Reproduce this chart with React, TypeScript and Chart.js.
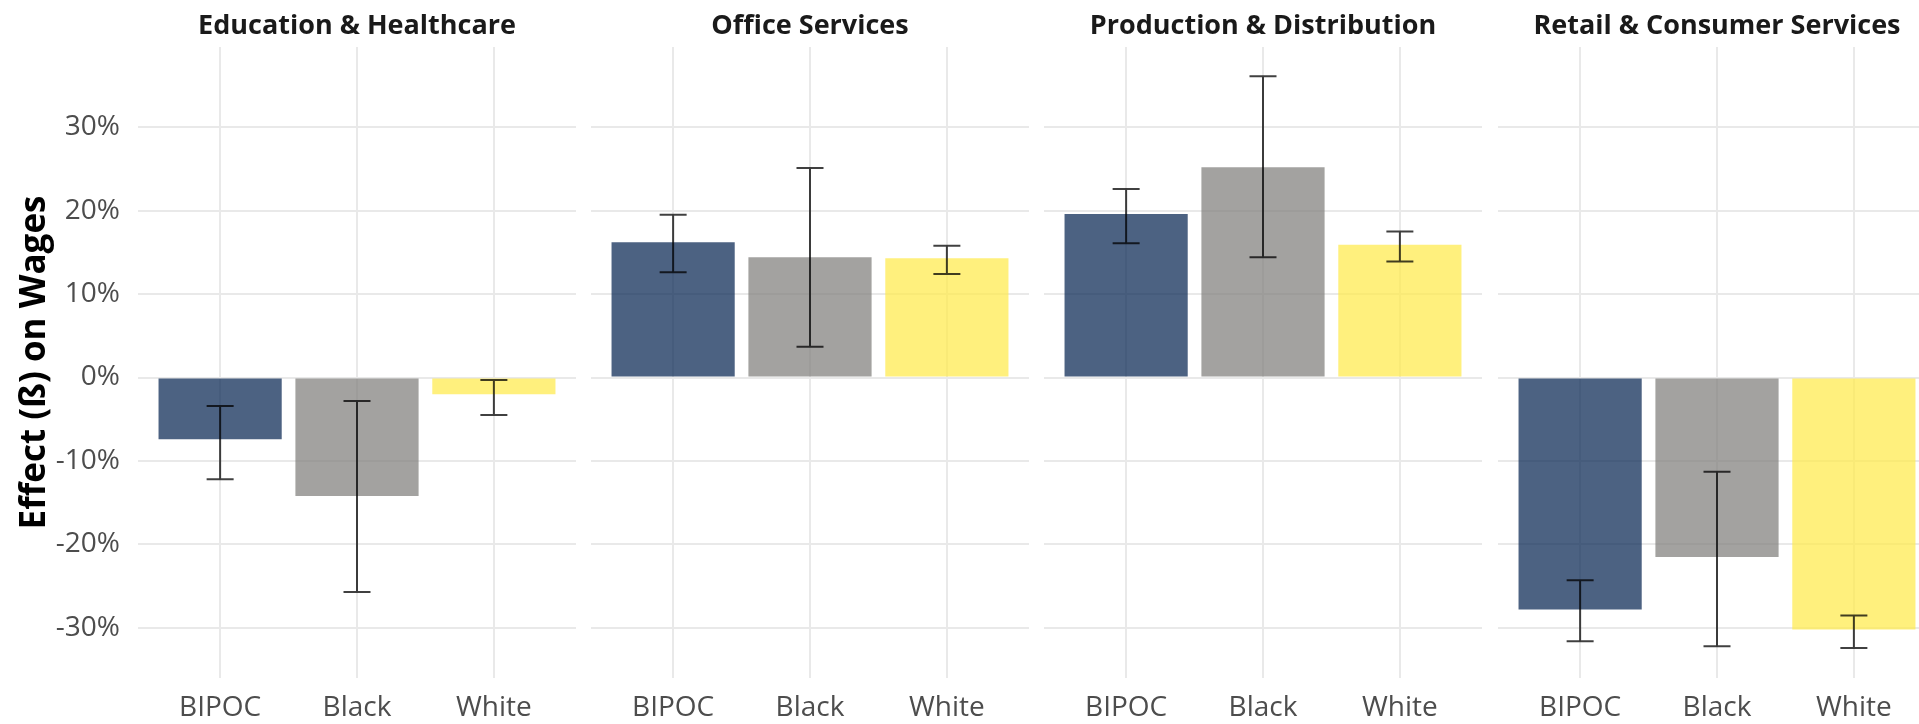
import React, { useEffect, useRef } from "react";
import { Chart, registerables } from "chart.js";

Chart.register(...registerables);

// ---------- data ----------
const categories = ["BIPOC", "Black", "White"];
const panelTitles = [
  "Education & Healthcare",
  "Office Services",
  "Production & Distribution",
  "Retail & Consumer Services",
];

const eduEffect = [-7.4, -14.2, -2.0];
const eduLow = [-12.2, -25.7, -4.5];
const eduHigh = [-3.4, -2.8, -0.3];

const officeEffect = [16.2, 14.4, 14.3];
const officeLow = [12.6, 3.7, 12.4];
const officeHigh = [19.5, 25.1, 15.8];

const prodEffect = [19.6, 25.2, 15.9];
const prodLow = [16.1, 14.4, 13.9];
const prodHigh = [22.6, 36.1, 17.5];

const retailEffect = [-27.8, -21.5, -30.2];
const retailLow = [-31.6, -32.2, -32.4];
const retailHigh = [-24.3, -11.3, -28.5];

const yTicks = [-30, -20, -10, 0, 10, 20, 30];
const yTitle = "Effect (ß) on Wages";

// ---------- styles ----------
const FONT = "'Open Sans', 'Noto Sans', sans-serif";
const barColors = ["rgba(0,32,77,0.7)", "rgba(124,123,120,0.7)", "rgba(255,234,70,0.7)"];
const GRID = "#e9e9e9";
const TICK_COLOR = "#4d4d4d";
const H = 724;
const Y_AXIS_W = 138;
const PANEL_W = 438;
const panelLefts = [138, 591, 1044, 1498];

const errorBarPlugin = {
  id: "errorBars",
  afterDatasetsDraw(chart: any, _args: any, opts: any) {
    const { ctx } = chart;
    const yScale = chart.scales.y;
    const meta = chart.getDatasetMeta(0);
    const lows: number[] = opts.lows || [];
    const highs: number[] = opts.highs || [];
    ctx.save();
    ctx.strokeStyle = "rgba(0,0,0,0.75)";
    ctx.lineWidth = 2;
    meta.data.forEach((el: any, i: number) => {
      const x = el.x;
      const y1 = yScale.getPixelForValue(lows[i]);
      const y2 = yScale.getPixelForValue(highs[i]);
      const cap = 13.5;
      ctx.beginPath();
      ctx.moveTo(x, y1);
      ctx.lineTo(x, y2);
      ctx.moveTo(x - cap, y1);
      ctx.lineTo(x + cap, y1);
      ctx.moveTo(x - cap, y2);
      ctx.lineTo(x + cap, y2);
      ctx.stroke();
    });
    ctx.restore();
  },
};

type PanelProps = {
  title: string;
  values: number[];
  lows: number[];
  highs: number[];
  showY: boolean;
  left: number;
  width: number;
};

function Panel({ title, values, lows, highs, showY, left, width }: PanelProps) {
  const ref = useRef<HTMLCanvasElement | null>(null);
  useEffect(() => {
    if (!ref.current) return;
    const chart = new Chart(ref.current, {
      type: "bar",
      data: {
        datasets: [
          {
            data: values.map((v, i) => ({ x: i + 1, y: v })),
            backgroundColor: barColors,
            borderWidth: 0,
            barPercentage: 0.9,
            categoryPercentage: 1,
          } as any,
        ],
      },
      options: {
        animation: false,
        responsive: false,
        devicePixelRatio: 1,
        layout: { padding: 0 },
        scales: {
          x: {
            type: "linear",
            min: 0.4,
            max: 3.6,
            offset: false,
            afterBuildTicks: (s: any) => {
              s.ticks = categories.map((_, i) => ({ value: i + 1 }));
            },
            afterFit: (s: any) => {
              s.height = 46;
            },
            grid: { color: GRID, lineWidth: 2, drawTicks: false, offset: false },
            border: { display: false },
            ticks: {
              padding: 13,
              color: TICK_COLOR,
              font: { family: FONT, size: 28 },
              maxRotation: 0,
              autoSkip: false,
              callback: (v: any) => categories[Number(v) - 1] ?? "",
            },
          },
          y: {
            type: "linear",
            min: -36,
            max: 39.6,
            afterBuildTicks: (s: any) => {
              s.ticks = yTicks.map((v) => ({ value: v }));
            },
            afterFit: (s: any) => {
              s.width = showY ? Y_AXIS_W : 0;
            },
            grid: { color: GRID, lineWidth: 2, drawTicks: false },
            border: { display: false },
            ticks: {
              display: showY,
              padding: 18,
              color: TICK_COLOR,
              font: { family: FONT, size: 28 },
              callback: (v: any) => `${v}%`,
            },
            title: {
              display: showY,
              text: yTitle,
              color: "#000",
              font: { family: FONT, size: 35, weight: "bold" },
              padding: { top: 14, bottom: 0 },
            },
          },
        },
        plugins: {
          legend: { display: false },
          tooltip: { enabled: false },
          title: {
            display: true,
            text: title,
            fullSize: false,
            color: "#1a1a1a",
            font: { family: FONT, size: 27, weight: "bold" },
            padding: { top: 10, bottom: 4.6 },
          },
          errorBars: { lows, highs },
        } as any,
      },
      plugins: [errorBarPlugin],
    });
    return () => chart.destroy();
  }, []);
  return (
    <canvas
      ref={ref}
      width={width}
      height={H}
      style={{ position: "absolute", left, top: 0, width, height: H, display: "block" }}
    />
  );
}

export default function App() {
  const panels = [
    { values: eduEffect, lows: eduLow, highs: eduHigh },
    { values: officeEffect, lows: officeLow, highs: officeHigh },
    { values: prodEffect, lows: prodLow, highs: prodHigh },
    { values: retailEffect, lows: retailLow, highs: retailHigh },
  ];
  return (
    <div
      style={{
        position: "absolute",
        left: 0,
        top: 0,
        width: 1919,
        height: H,
        overflow: "hidden",
        background: "#fff",
      }}
    >
      {panels.map((p, i) => {
        const showY = i === 0;
        const left = showY ? 0 : panelLefts[i];
        const width = showY ? panelLefts[0] + PANEL_W : PANEL_W;
        return (
          <Panel
            key={i}
            title={panelTitles[i]}
            values={p.values}
            lows={p.lows}
            highs={p.highs}
            showY={showY}
            left={left}
            width={width}
          />
        );
      })}
    </div>
  );
}
